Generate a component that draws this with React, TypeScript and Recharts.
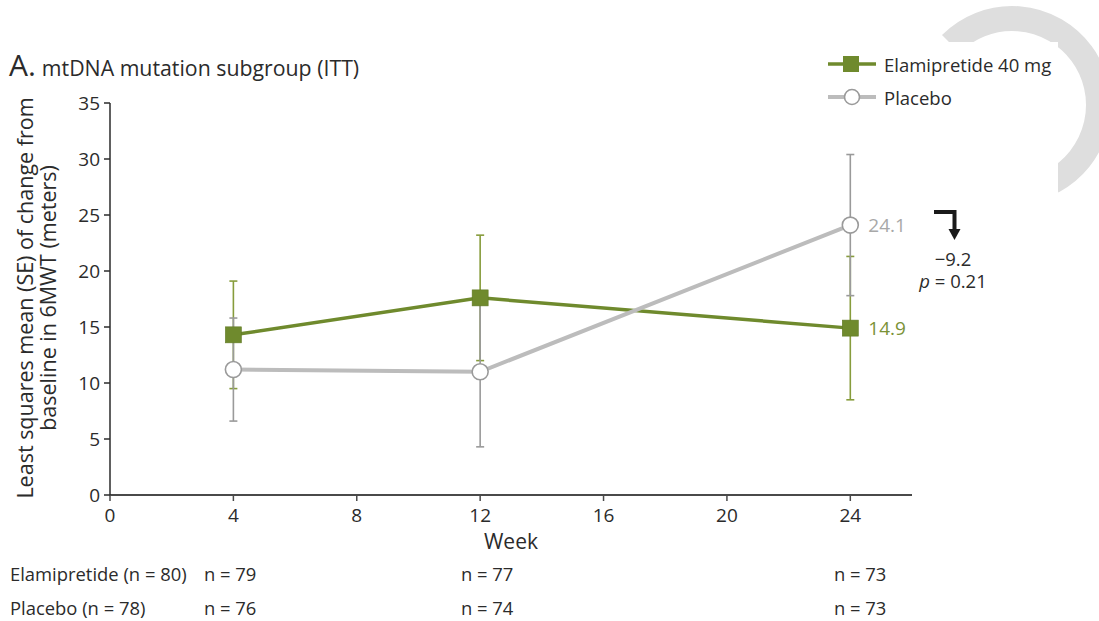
import React from 'react';
import { LineChart, Line, XAxis, YAxis, ErrorBar } from 'recharts';

// ---- data ----
const weeks = [4, 12, 24];
const elamiMean = [14.3, 17.6, 14.9];
const elamiSE = [4.8, 5.6, 6.4];
const placeboMean = [11.2, 11.0, 24.1];
const placeboSE = [4.6, 6.7, 6.3];
const xTicks = [0, 4, 8, 12, 16, 20, 24];
const yTicks = [0, 5, 10, 15, 20, 25, 30, 35];
const elamiN = ['n = 79', 'n = 77', 'n = 73'];
const placeboN = ['n = 76', 'n = 74', 'n = 73'];
const seriesNames = ['Elamipretide 40 mg', 'Placebo'];
const rowLabels = ['Elamipretide (n = 80)', 'Placebo (n = 78)'];
const diffLabel = '\u22129.2';
const pLabel = '0.21';

const data = weeks.map((w, i) => ({
  week: w,
  elami: elamiMean[i],
  elamiErr: elamiSE[i],
  placebo: placeboMean[i],
  placeboErr: placeboSE[i],
}));

// ---- styles ----
const GREEN = '#6f8a2d';
const GREEN_ERR = '#879c3c';
const GREY_LINE = '#bcbcbc';
const GREY_ERR = '#9a9a9a';
const TEXT = '#2b2b2b';
const FONT = '"Open Sans", "Noto Sans", sans-serif';

const SquareDot = (props: any) => {
  const { cx, cy, index } = props;
  if (cx == null || cy == null) return null;
  return (
    <rect key={`sq-${index}`} x={cx - 8} y={cy - 8} width={16} height={16} fill={GREEN} stroke="#617a25" strokeWidth={0.6} />
  );
};

const CircleDot = (props: any) => {
  const { cx, cy, index } = props;
  if (cx == null || cy == null) return null;
  return <circle key={`ci-${index}`} cx={cx} cy={cy} r={8} fill="#ffffff" stroke={GREY_ERR} strokeWidth={1.6} />;
};

const endLabel = (color: string, last: number) => (props: any) => {
  const { x, y, index, value } = props;
  if (index !== last) return null;
  return (
    <text key={`lbl-${index}`} x={x + 18} y={y} dominantBaseline="central" fill={color} fontSize={19} fontFamily={FONT}>
      {Number(value).toFixed(1)}
    </text>
  );
};

const YLabel = () => (
  <g>
    <text transform="translate(24,298) rotate(-90)" textAnchor="middle" dominantBaseline="central" fontSize={21.5} fill={TEXT} fontFamily={FONT}>
      Least squares mean (SE) of change from
    </text>
    <text transform="translate(47,298) rotate(-90)" textAnchor="middle" dominantBaseline="central" fontSize={21.5} fill={TEXT} fontFamily={FONT}>
      baseline in 6MWT (meters)
    </text>
  </g>
);

function arcPath(cx: number, cy: number, r: number, a1: number, a2: number) {
  const t1 = (a1 * Math.PI) / 180;
  const t2 = (a2 * Math.PI) / 180;
  const x1 = cx + r * Math.cos(t1);
  const y1 = cy + r * Math.sin(t1);
  const x2 = cx + r * Math.cos(t2);
  const y2 = cy + r * Math.sin(t2);
  const large = a2 - a1 > 180 ? 1 : 0;
  return `M ${x1} ${y1} A ${r} ${r} 0 ${large} 1 ${x2} ${y2}`;
}

export default function App() {
  const nTextX = [204, 461, 834];
  return (
    <div style={{ position: 'absolute', left: 0, top: 0, width: 1099, height: 621, background: '#fff', fontFamily: FONT, overflow: 'hidden' }}>
      {/* background decoration */}
      <svg width={1099} height={621} style={{ position: 'absolute', left: 0, top: 0 }}>
        <path d={arcPath(1012, 105, 86.5, 225, 422)} fill="none" stroke="#dedede" strokeWidth={25} />
        <rect x={815} y={42} width={243} height={160} fill="#ffffff" />
      </svg>
      <div style={{ position: 'absolute', left: 0, top: 0 }}>
        <LineChart width={1099} height={621} data={data} margin={{ top: 103, right: 187, bottom: 66, left: 0 }}>
          <XAxis
            dataKey="week"
            type="number"
            domain={[0, 26]}
            ticks={xTicks}
            allowDataOverflow
            height={60}
            tickSize={6}
            tickMargin={8}
            stroke="#4a4a4a"
            strokeWidth={2}
            tick={{ fontSize: 19, fill: TEXT, fontFamily: FONT }}
            tickLine={{ stroke: '#4a4a4a', strokeWidth: 1.5 }}
            label={{ value: 'Week', position: 'insideBottom', offset: 6, fontSize: 21, fill: TEXT, fontFamily: FONT }}
          />
          <YAxis
            type="number"
            domain={[0, 35]}
            ticks={yTicks}
            width={110}
            tickSize={6}
            tickMargin={4}
            stroke="#2b2b2b"
            strokeWidth={1.5}
            tick={{ fontSize: 19, fill: TEXT, fontFamily: FONT }}
            label={{ content: () => <YLabel /> }}
          />
          <Line
            type="linear"
            dataKey="elami"
            name={seriesNames[0]}
            stroke={GREEN}
            strokeWidth={3.5}
            dot={SquareDot}
            activeDot={false}
            isAnimationActive={false}
            label={endLabel('#7b9236', data.length - 1)}
          >
            <ErrorBar dataKey="elamiErr" width={4} stroke={GREEN_ERR} strokeWidth={1.6} direction="y" />
          </Line>
          <Line
            type="linear"
            dataKey="placebo"
            name={seriesNames[1]}
            stroke={GREY_LINE}
            strokeWidth={4}
            dot={CircleDot}
            activeDot={false}
            isAnimationActive={false}
            label={endLabel('#a8a8a8', data.length - 1)}
          >
            <ErrorBar dataKey="placeboErr" width={4} stroke={GREY_ERR} strokeWidth={1.6} direction="y" />
          </Line>
        </LineChart>
      </div>
      {/* overlay texts */}
      <svg width={1099} height={621} style={{ position: 'absolute', left: 0, top: 0, pointerEvents: 'none' }}>
        {/* legend */}
        <line x1={828} y1={64} x2={876} y2={64} stroke={GREEN} strokeWidth={3.5} />
        <rect x={843} y={56} width={16} height={16} fill={GREEN} />
        <text x={884} y={64} dominantBaseline="central" fontSize={18.5} fill={TEXT} fontFamily={FONT}>{seriesNames[0]}</text>
        <line x1={828} y1={97} x2={876} y2={97} stroke={GREY_LINE} strokeWidth={4} />
        <circle cx={852} cy={97} r={7.5} fill="#fff" stroke={GREY_ERR} strokeWidth={1.6} />
        <text x={884} y={97} dominantBaseline="central" fontSize={18.5} fill={TEXT} fontFamily={FONT}>{seriesNames[1]}</text>
        {/* title */}
        <text x={9} y={76} fontFamily={FONT} fill={TEXT}>
          <tspan fontSize={30}>A.</tspan>
          <tspan fontSize={21.3} dx={6}>mtDNA mutation subgroup (ITT)</tspan>
        </text>
        {/* difference annotation */}
        <polyline points="934,212 954.5,212 954.5,231" fill="none" stroke="#1a1a1a" strokeWidth={4} />
        <polygon points="948.5,229 960.5,229 954.5,240" fill="#1a1a1a" />
        <text x={953} y={258} textAnchor="middle" dominantBaseline="central" fontSize={18.5} fill={TEXT} fontFamily={FONT}>{diffLabel}</text>
        <text x={953} y={280} textAnchor="middle" dominantBaseline="central" fontSize={18.5} fill={TEXT} fontFamily={FONT}>
          <tspan fontStyle="italic">p</tspan> = {pLabel}
        </text>
        {/* n rows */}
        <text x={10} y={573} dominantBaseline="central" fontSize={18.4} fill={TEXT} fontFamily={FONT}>{rowLabels[0]}</text>
        <text x={10} y={607} dominantBaseline="central" fontSize={18.4} fill={TEXT} fontFamily={FONT}>{rowLabels[1]}</text>
        {elamiN.map((t, i) => (
          <text key={`en${i}`} x={nTextX[i]} y={573} dominantBaseline="central" fontSize={18.4} fill={TEXT} fontFamily={FONT}>{t}</text>
        ))}
        {placeboN.map((t, i) => (
          <text key={`pn${i}`} x={nTextX[i]} y={607} dominantBaseline="central" fontSize={18.4} fill={TEXT} fontFamily={FONT}>{t}</text>
        ))}
      </svg>
    </div>
  );
}
